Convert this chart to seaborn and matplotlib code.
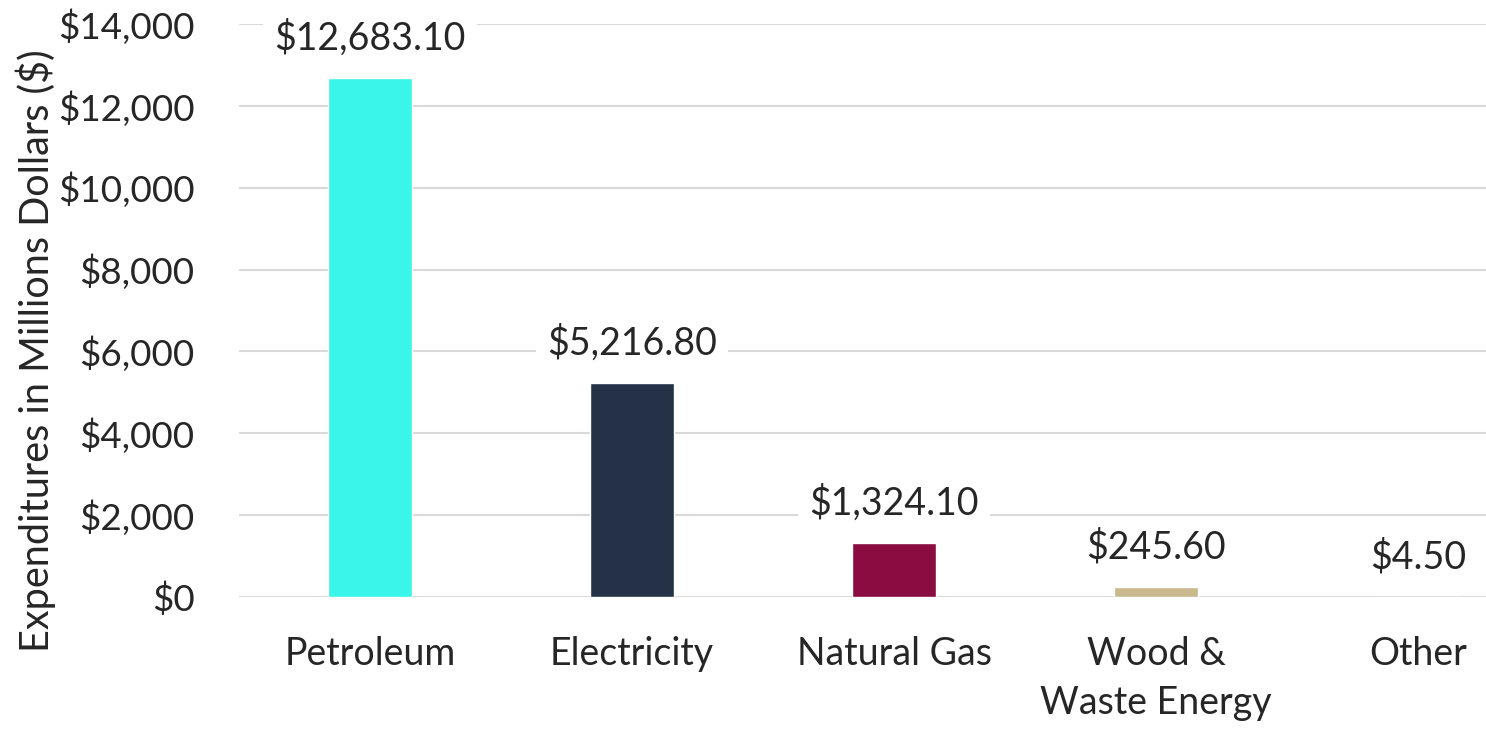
import matplotlib
matplotlib.use("Agg")
import matplotlib.pyplot as plt
import seaborn as sns
import pandas as pd

# Данные
categories = ["Petroleum", "Electricity", "Natural Gas", "Wood &\nWaste Energy", "Other"]
values = [12683.10, 5216.80, 1324.10, 245.60, 4.50]
colors = ["#3AF5EA", "#243147", "#8B0C40", "#C9B98C", "#7F7F7F"]
y_ticks = [0, 2000, 4000, 6000, 8000, 10000, 12000, 14000]

df = pd.DataFrame({"category": categories, "value": values})

sns.set_theme(style="white")
plt.rcParams["font.family"] = ["Lato", "DejaVu Sans"]

fig = plt.figure(figsize=(14.86, 7.29), dpi=100)
ax = fig.add_axes([239 / 1486, 1 - 597 / 729, 1310 / 1486, 573 / 729])

sns.barplot(data=df, x="category", y="value", hue="category", palette=colors,
            saturation=1, legend=False, width=0.32, ax=ax, zorder=3)

ax.set_ylim(0, 14000)
ax.set_xlim(-0.5, 4.5)
ax.set_yticks(y_ticks)
ax.set_yticklabels([f"${v:,.0f}" for v in y_ticks], fontsize=26.5, color="#262626")
ax.tick_params(axis="x", labelsize=27, colors="#262626", pad=28, length=0)
ax.tick_params(axis="y", pad=32, length=0)
for lbl in ax.get_xticklabels():
    lbl.set_linespacing(1.45)
ax.grid(axis="y", color="#D9D9D9", linewidth=1.5, zorder=0)
ax.set_axisbelow(True)
sns.despine(ax=ax, left=True, bottom=True, top=True, right=True)

ax.set_xlabel("")
ax.set_ylabel("Expenditures in Millions Dollars ($)", fontsize=28.5, color="#262626")
ax.yaxis.set_label_coords(-0.14, 0.43)

# Подписи значений
for i, v in enumerate(values):
    ax.annotate(f"${v:,.2f}", (i, v), xytext=(0, 40), textcoords="offset pixels",
                ha="center", va="center", fontsize=27, color="#262626",
                bbox=dict(boxstyle="square,pad=0.3", fc="white", ec="none"),
                zorder=4)

fig.savefig("out.png", dpi=100)
